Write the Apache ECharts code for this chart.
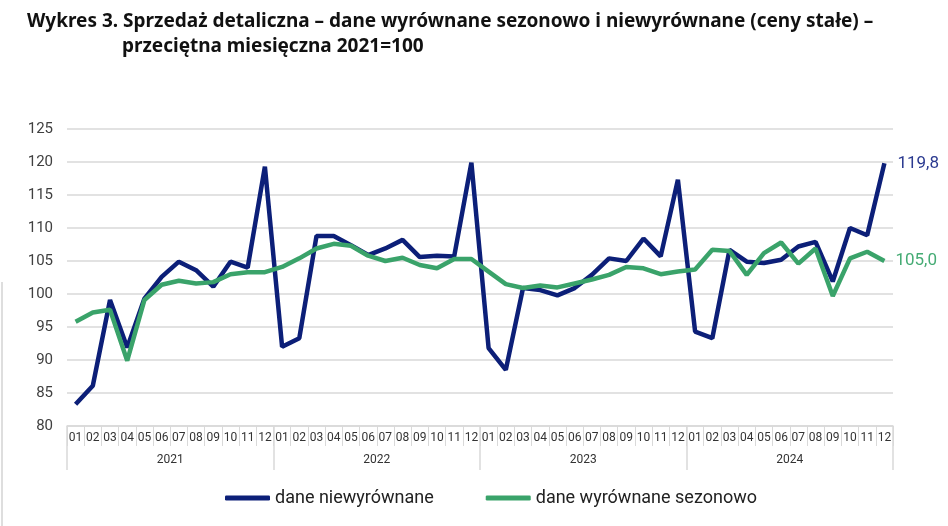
<!DOCTYPE html>
<html>
<head>
<meta charset="utf-8">
<title>Wykres 3</title>
<script src="https://cdn.jsdelivr.net/npm/echarts@6/dist/echarts.min.js"></script>
<style>
  html, body { margin: 0; padding: 0; background: #fff; }
  #main { width: 948px; height: 526px; }
</style>
</head>
<body>
<div id="main"></div>
<script>
'use strict';

let years = ['2021', '2022', '2023', '2024'];
let monthNames = ['01', '02', '03', '04', '05', '06', '07', '08', '09', '10', '11', '12'];

let months = [];
for (let y of years) {
	for (let m of monthNames) {
		months.push(y + '-' + m);
	}
}

// dane niewyrównane
let unadjusted = [
	83.3, 86.1, 99.1, 91.9, 99.3, 102.6, 104.9, 103.6, 101.1, 104.9, 104.0, 119.3,
	92.0, 93.3, 108.8, 108.8, 107.4, 105.9, 106.9, 108.2, 105.6, 105.8, 105.7, 119.9,
	91.8, 88.5, 100.9, 100.6, 99.8, 100.9, 102.9, 105.4, 105.0, 108.4, 105.7, 117.3,
	94.3, 93.3, 106.7, 104.9, 104.7, 105.2, 107.2, 107.9, 101.9, 110.0, 108.9, 119.8
];

// dane wyrównane sezonowo
let adjusted = [
	95.8, 97.2, 97.6, 89.9, 99.1, 101.4, 102.0, 101.6, 101.8, 103.0, 103.3, 103.3,
	104.1, 105.4, 106.9, 107.6, 107.3, 105.8, 105.0, 105.5, 104.4, 103.9, 105.3, 105.3,
	103.4, 101.5, 100.9, 101.3, 101.0, 101.6, 102.2, 102.9, 104.1, 103.9, 103.0, 103.4,
	103.7, 106.7, 106.5, 102.9, 106.2, 107.8, 104.6, 106.9, 99.7, 105.4, 106.4, 105.0
];

let blue = '#0c1f78';
let green = '#3aa36a';
let gridColor = '#d9d9d9';
let font = 'Roboto';
let titleFont = 'Noto Sans';

let myChart = echarts.init(document.getElementById('main'));

function commaLabel(params) {
	return params.value.toFixed(1).replace('.', ',');
}

let option = {
	backgroundColor: '#fff',
	animation: false,
	title: [{
		text: 'Wykres 3. Sprzedaż detaliczna – dane wyrównane sezonowo i niewyrównane (ceny stałe) –',
		left: 22,
		top: 7,
		textStyle: { fontFamily: titleFont, fontSize: 19, fontWeight: 'bold', color: '#111' }
	}, {
		text: 'przeciętna miesięczna 2021=100',
		left: 117,
		top: 32,
		textStyle: { fontFamily: titleFont, fontSize: 19, fontWeight: 'bold', color: '#111' }
	}],
	legend: {
		data: ['dane niewyrównane', 'dane wyrównane sezonowo'],
		bottom: 14,
		left: 220,
		icon: 'roundRect',
		itemWidth: 45,
		itemHeight: 5,
		itemGap: 52,
		textStyle: { fontFamily: font, fontSize: 18, color: '#222' }
	},
	grid: {
		left: 67,
		right: 55,
		top: 129,
		bottom: 100
	},
	xAxis: [{
		type: 'category',
		data: months,
		boundaryGap: true,
		axisLine: { lineStyle: { color: gridColor, width: 1.5 } },
		axisTick: { show: true, interval: 0, length: 20, lineStyle: { color: gridColor, width: 1 } },
		axisLabel: {
			interval: 0,
			margin: 6,
			fontFamily: font,
			fontSize: 12,
			color: '#333',
			formatter: v => v.slice(5)
		},
		splitLine: { show: false }
	}, {
		type: 'category',
		data: years,
		position: 'bottom',
		boundaryGap: true,
		axisLine: { show: false },
		axisTick: { show: true, interval: 0, length: 44, lineStyle: { color: gridColor, width: 1.5 } },
		axisLabel: {
			interval: 0,
			margin: 28,
			fontFamily: font,
			fontSize: 12,
			color: '#333'
		},
		splitLine: { show: false }
	}],
	yAxis: {
		type: 'value',
		min: 80,
		max: 125,
		interval: 5,
		axisLine: { show: false },
		axisTick: { show: false },
		axisLabel: { margin: 14, fontFamily: font, fontSize: 15, color: '#404040' },
		splitLine: { lineStyle: { color: gridColor, width: 1.5 } }
	},
	series: [{
		name: 'dane niewyrównane',
		type: 'line',
		data: unadjusted,
		symbol: 'none',
		color: blue,
		lineStyle: { width: 4.5, color: blue },
		endLabel: {
			show: true,
			formatter: commaLabel,
			distance: 13,
			fontFamily: font,
			fontSize: 17,
			color: '#2b3a90'
		},
		z: 3
	}, {
		name: 'dane wyrównane sezonowo',
		type: 'line',
		data: adjusted,
		symbol: 'none',
		color: green,
		lineStyle: { width: 4.5, color: green },
		endLabel: {
			show: true,
			formatter: commaLabel,
			distance: 11,
			fontFamily: font,
			fontSize: 17,
			color: '#45ab74'
		},
		z: 4
	}],
	graphic: [{
		type: 'line',
		shape: { x1: 2, y1: 282, x2: 2, y2: 526 },
		style: { stroke: '#bdbdbd', lineWidth: 1 }
	}]
};

myChart.setOption(option);
</script>
</body>
</html>
